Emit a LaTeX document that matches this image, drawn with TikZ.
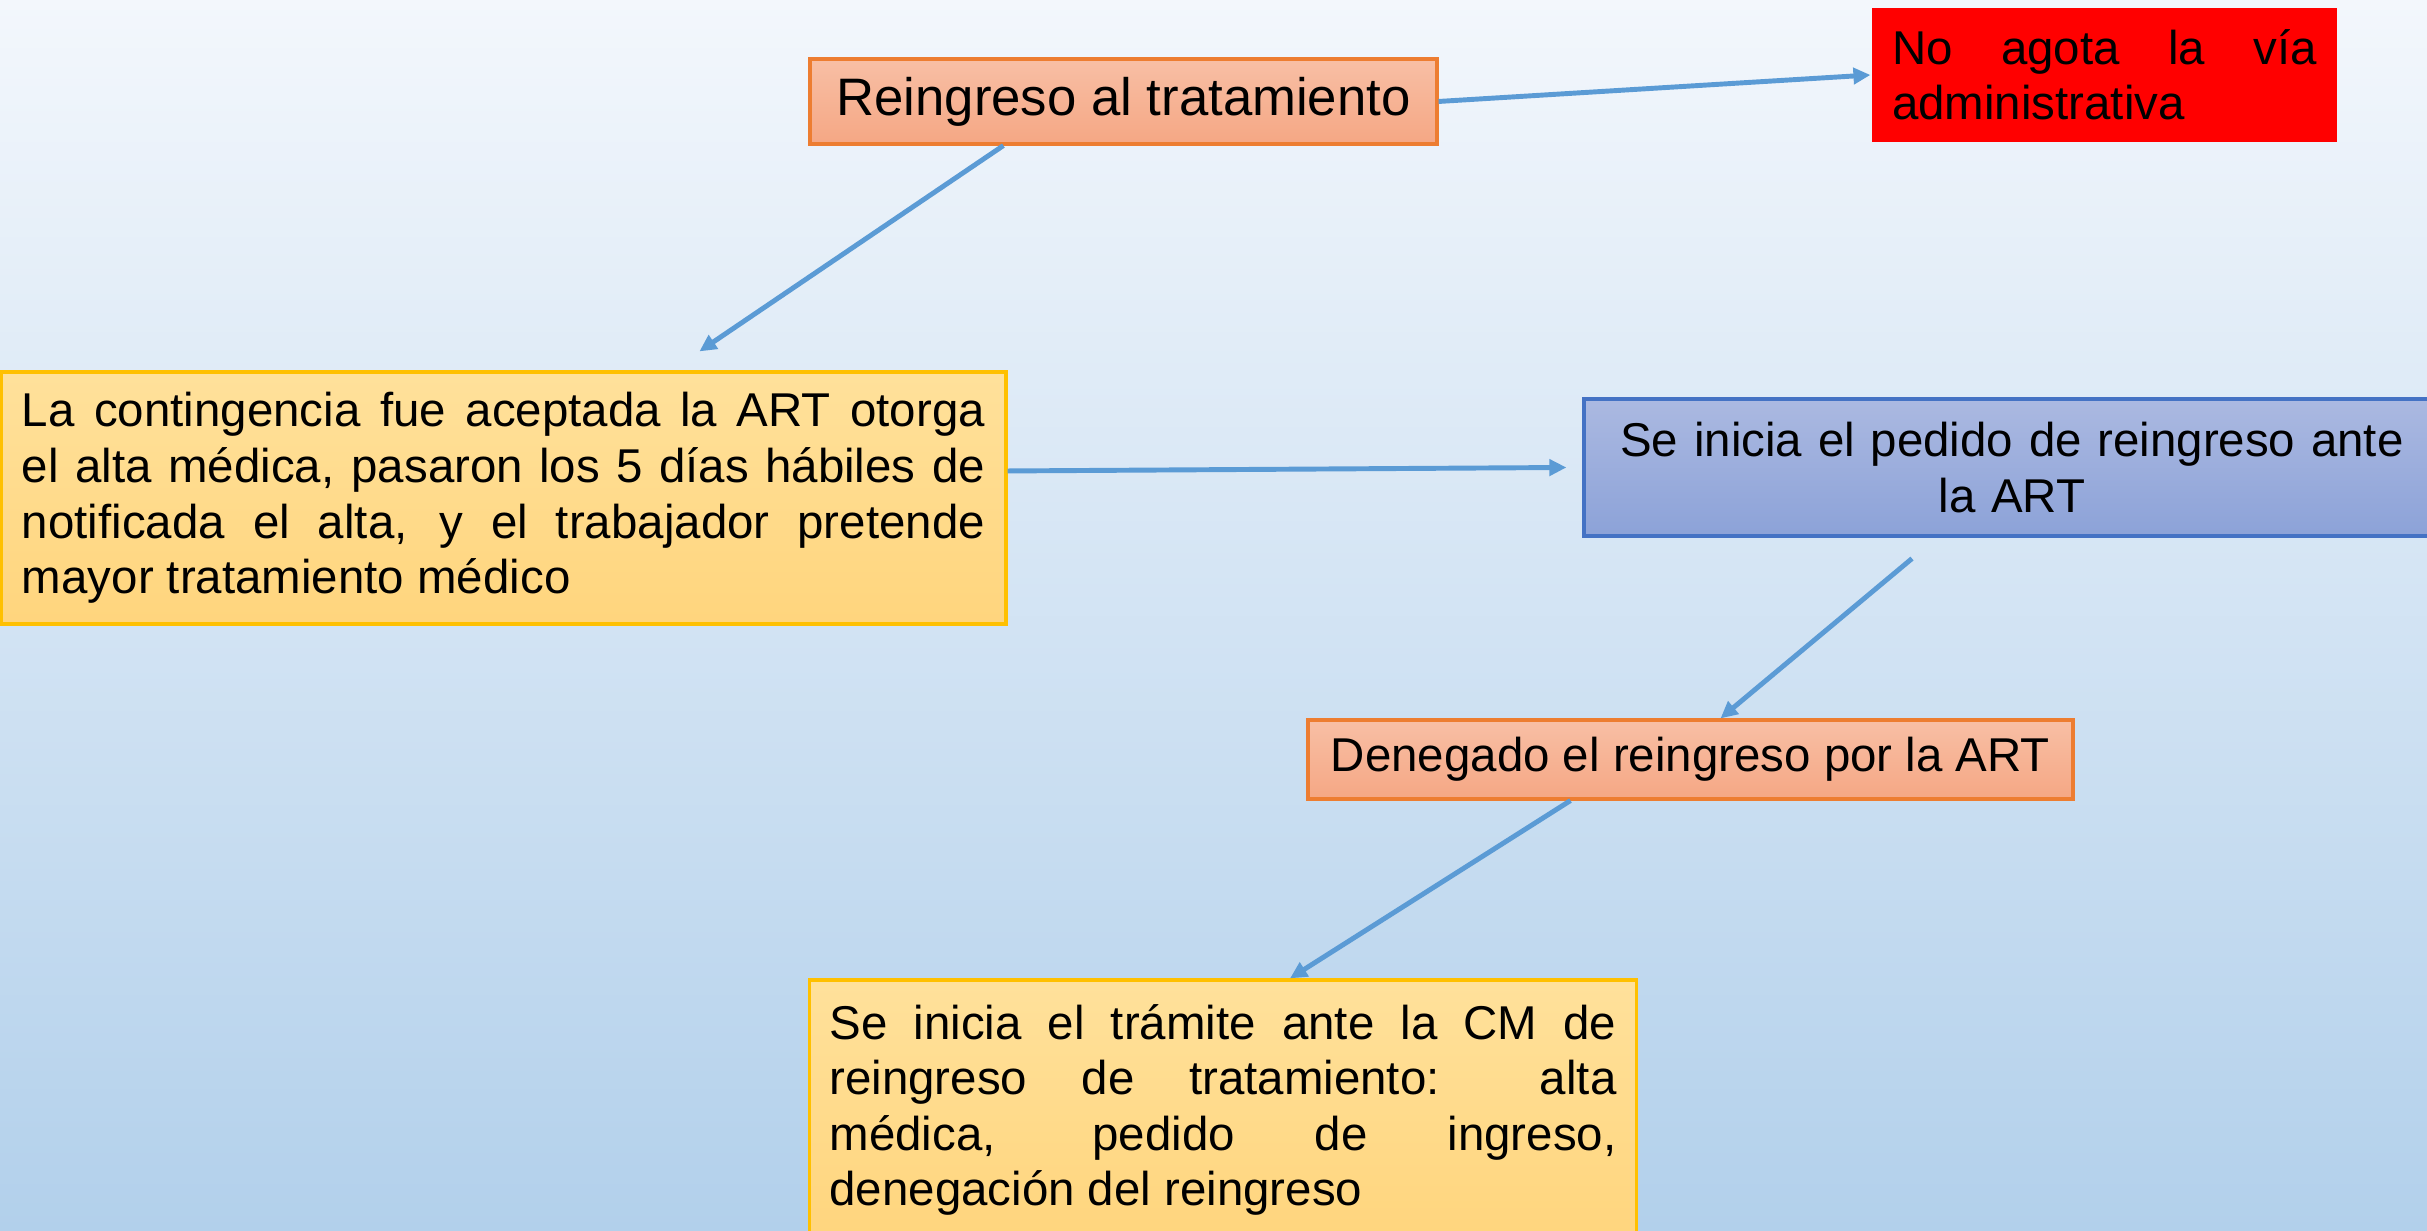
\documentclass[tikz,border=0pt]{standalone}
\usepackage{fontspec}
\setmainfont{Liberation Sans}
\usetikzlibrary{arrows.meta,calc}

\definecolor{fondoarriba}{RGB}{243,247,252}
\definecolor{fondoabajo}{RGB}{178,208,235}
\definecolor{flechaazul}{RGB}{91,155,213}
\definecolor{salmonarriba}{RGB}{248,191,165}
\definecolor{salmonabajo}{RGB}{245,167,132}
\definecolor{naranjaborde}{RGB}{237,125,49}
\definecolor{amarilloarriba}{RGB}{255,225,155}
\definecolor{amarilloabajo}{RGB}{255,213,125}
\definecolor{amarilloborde}{RGB}{255,192,0}
\definecolor{azularriba}{RGB}{171,185,225}
\definecolor{azulabajo}{RGB}{140,162,216}
\definecolor{azulborde}{RGB}{68,114,196}

\tikzset{
  caja/.style={line width=0.9pt, inner xsep=0.2cm,
    font={\fontsize{13.5}{15.8}\selectfont\hyphenpenalty=10000\tolerance=10000}},
  salmon/.style={caja, draw=naranjaborde, top color=salmonarriba, bottom color=salmonabajo},
  amarilla/.style={caja, draw=amarilloborde, top color=amarilloarriba, bottom color=amarilloabajo},
  azul/.style={caja, draw=azulborde, top color=azularriba, bottom color=azulabajo},
  roja/.style={caja, fill=red},
  flecha/.style={flechaazul, line width=1.4pt, -{Triangle[length=1.7mm,width=1.6mm]}}
}

\begin{document}
\begin{tikzpicture}
    % Fondo
    \useasboundingbox (0,0) rectangle (24.27,12.31);
    \shade[top color=fondoarriba, bottom color=fondoabajo] (0,0) rectangle (24.27,12.31);

    % Cajas
    \node[salmon, minimum width=6.27cm, minimum height=0.85cm, font=\fontsize{15}{18}\selectfont] (reingreso) at (11.235,11.295) {Reingreso al tratamiento};
    \node[roja, text width=4.25cm, align=justify, minimum height=1.34cm] (noagota) at (21.045,11.56) {No agota la vía\linebreak administrativa};
    \node[amarilla, text width=9.63cm, align=justify, minimum height=2.52cm, inner xsep=0.21cm] (contingencia) at (5.035,7.33)
        {La contingencia fue aceptada la ART otorga\linebreak el alta médica, pasaron los 5 días hábiles de\linebreak notificada el alta, y el trabajador pretende\linebreak mayor tratamiento médico};
    \node[azul, text width=8.16cm, align=center, minimum height=1.37cm] (pedido) at (20.12,7.635) {Se inicia el pedido de reingreso ante\\la ART};
    \node[salmon, minimum width=7.65cm, minimum height=0.79cm] (denegado) at (16.905,4.715) {Denegado el reingreso por la ART};
    \node[amarilla, text width=7.87cm, align=justify, minimum height=2.6cm] (tramite) at (12.23,1.21)
        {Se inicia el trámite ante la CM de\linebreak reingreso de tratamiento: alta\linebreak médica, pedido de ingreso,\linebreak denegación del reingreso};

    % Flechas
    \draw[flecha] ($(reingreso.south west)+(1.95,0)$) -- ($(contingencia.north west)+(7.0,0.19)$);
    \draw[flecha] (reingreso.east) -- (noagota.west);
    \draw[flecha] ($(contingencia.east)+(0,0.27)$) -- ($(pedido.west)+(-0.16,0)$);
    \draw[flecha] ($(pedido.south)+(-1.0,-0.21)$) -- ($(denegado.north)+(0.3,0)$);
    \draw[flecha] ($(denegado.south)+(-1.2,0)$) -- ($(tramite.north)+(0.67,0)$);
\end{tikzpicture}
\end{document}
